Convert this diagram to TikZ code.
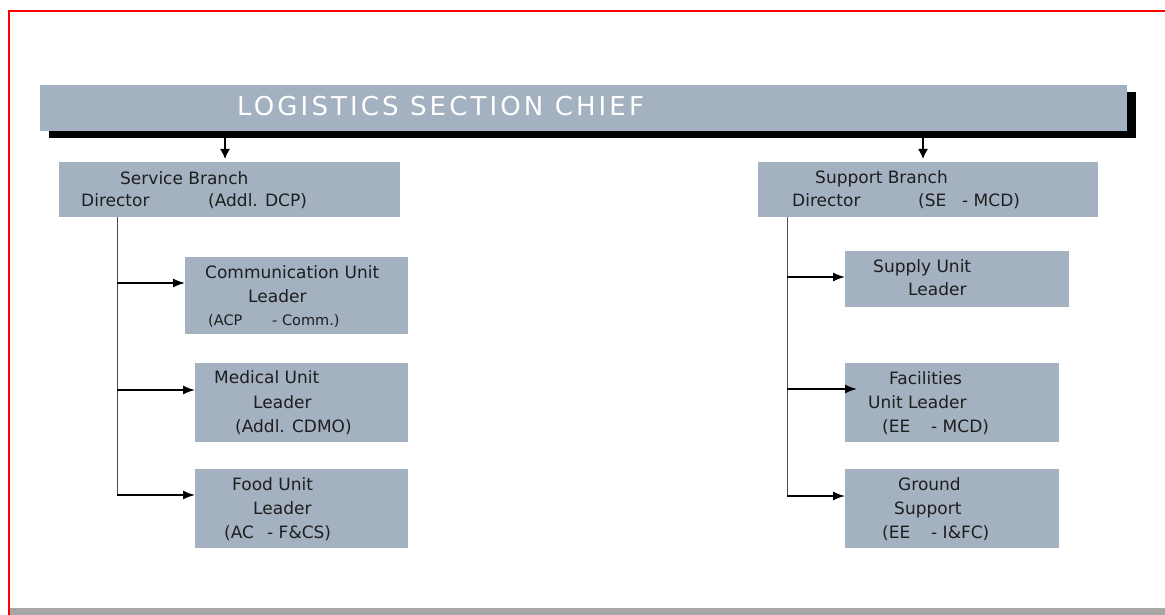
\documentclass[tikz,border=0pt]{standalone}
\usepackage{fontspec}
\setmainfont{DejaVu Sans}
\usetikzlibrary{arrows.meta}
\definecolor{boxfill}{RGB}{163,177,193}
\definecolor{footgray}{RGB}{166,166,166}
\definecolor{inkgray}{RGB}{30,30,30}
\begin{document}
\begin{tikzpicture}[x=1pt,y=-1pt,
  unit/.style={fill=boxfill, draw=none, inner sep=0pt, outer sep=0pt, anchor=north west},
  lbl/.style={inner sep=0pt, anchor=base west, text=inkgray, font=\fontsize{17}{20}\selectfont},
  small/.style={lbl, font=\fontsize{14.5}{18}\selectfont},
  feed/.style={line width=1.5pt, -{Latex[length=10pt,width=10pt]}},
  trunk/.style={line width=1pt, draw=black!70},
  branch/.style={line width=1.4pt, -{Latex[length=12pt,width=9pt]}}
]
\useasboundingbox (0,0) rectangle (1165,615);

% page frame and footer band
\draw[red, line width=1.3pt] (9,615) -- (9,11) -- (1165,11);
\fill[footgray] (10,608) rectangle (1165,615);

% section chief banner with drop shadow
\node[unit, fill=black, minimum width=1087pt, minimum height=46pt] (chiefshadow) at (49,92) {};
\node[unit, minimum width=1087pt, minimum height=46pt] (chief) at (40,85) {};
\node[inner sep=0pt, anchor=base west, text=white,
      font=\fontsize{26}{30}\selectfont\addfontfeatures{LetterSpace=12}] (chieftxt) at (237,116) {LOGISTICS SECTION CHIEF};

% branch boxes
\node[unit, minimum width=341pt, minimum height=55pt] (svc) at (59,162) {};
\node[unit, minimum width=340pt, minimum height=55pt] (sup) at (758,162) {};

% unit boxes
\node[unit, minimum width=223pt, minimum height=77pt] (comm) at (185,257) {};
\node[unit, minimum width=213pt, minimum height=79pt] (med) at (195,363) {};
\node[unit, minimum width=213pt, minimum height=79pt] (food) at (195,469) {};
\node[unit, minimum width=224pt, minimum height=56pt] (supply) at (845,251) {};
\node[unit, minimum width=214pt, minimum height=79pt] (fac) at (845,363) {};
\node[unit, minimum width=214pt, minimum height=79pt] (gnd) at (845,469) {};

% labels
\node[lbl] (svc1) at (120,184) {Service Branch};
\node[lbl] (svc2) at (81,207) {Director};
\node[lbl] (svc3) at (208,207) {(Addl. DCP)};

\node[lbl] (sup1) at (815,183) {Support Branch};
\node[lbl] (sup2) at (792,207) {Director};
\node[lbl] (sup3) at (918,207) {(SE};
\node[lbl] (sup4) at (962,207) {- MCD)};

\node[lbl] (comm1) at (205,278) {Communication Unit};
\node[lbl] (comm2) at (248,302) {Leader};
\node[small] (comm3) at (208,325) {(ACP};
\node[small] (comm4) at (272,325) {- Comm.)};

\node[lbl] (med1) at (214,383) {Medical Unit};
\node[lbl] (med2) at (253,408) {Leader};
\node[lbl] (med3) at (235,432) {(Addl. CDMO)};

\node[lbl] (food1) at (232,490) {Food Unit};
\node[lbl] (food2) at (253,514) {Leader};
\node[lbl] (food3) at (224,538) {(AC};
\node[lbl] (food4) at (267,538) {- F\&CS)};

\node[lbl] (supply1) at (873,272) {Supply Unit};
\node[lbl] (supply2) at (908,295) {Leader};

\node[lbl] (fac1) at (889,384) {Facilities};
\node[lbl] (fac2) at (868,408) {Unit Leader};
\node[lbl] (fac3) at (882,432) {(EE};
\node[lbl] (fac4) at (931,432) {- MCD)};

\node[lbl] (gnd1) at (898,490) {Ground};
\node[lbl] (gnd2) at (894,514) {Support};
\node[lbl] (gnd3) at (882,538) {(EE};
\node[lbl] (gnd4) at (931,538) {- I\&FC)};

% chief to branches
\coordinate (tl) at (225,131);
\coordinate (tr) at (923,131);
\draw[feed, shorten >=3pt] (tl) -- (tl |- svc.north);
\draw[feed, shorten >=3pt] (tr) -- (tr |- sup.north);

% service branch tree
\coordinate (ls) at (117,217);
\coordinate (l1) at (117,283);
\coordinate (l2) at (117,390);
\coordinate (l3) at (117,495);
\draw[trunk] (ls) -- (l3);
\draw[branch] (l1) -- (l1 -| comm.west);
\draw[branch] (l2) -- (l2 -| med.west);
\draw[branch] (l3) -- (l3 -| food.west);

% support branch tree
\coordinate (rs) at (787,217);
\coordinate (r1) at (787,277);
\coordinate (r2) at (787,389);
\coordinate (r3) at (787,496);
\draw[trunk] (rs) -- (r3);
\draw[branch] (r1) -- (r1 -| supply.west);
\draw[branch, shorten >=-12pt] (r2) -- (r2 -| fac.west);
\draw[branch] (r3) -- (r3 -| gnd.west);
\end{tikzpicture}
\end{document}
